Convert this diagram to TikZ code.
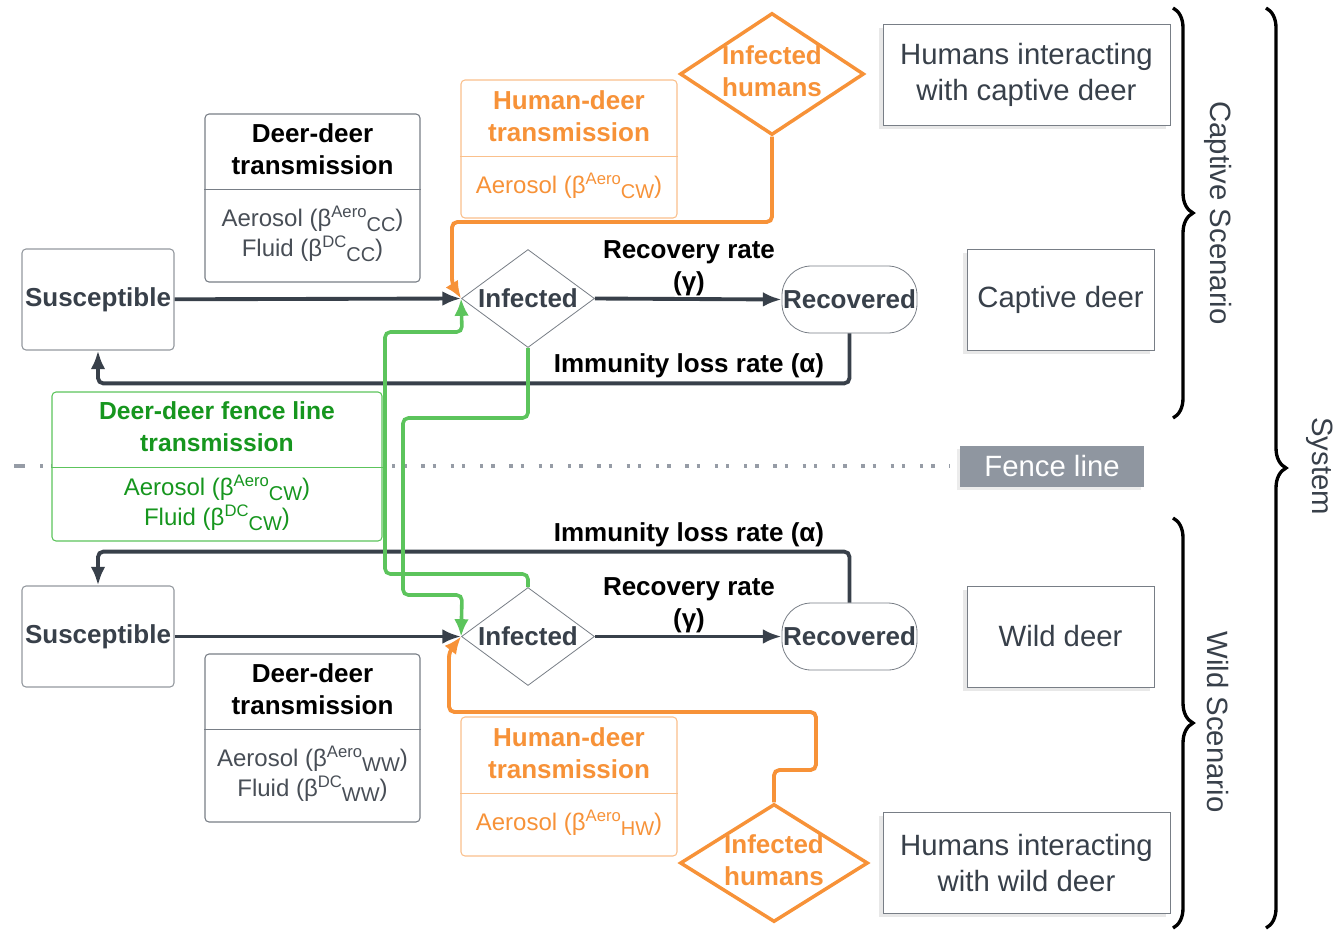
\documentclass[tikz,border=0pt]{standalone}
\usepackage{fontspec}
\setmainfont{Liberation Sans}
\usetikzlibrary{arrows.meta,positioning,shapes.geometric,decorations.pathreplacing,shadows}

\definecolor{inkdark}{RGB}{56,64,74}
\definecolor{boxgrey}{RGB}{120,126,134}
\definecolor{bodygrey}{RGB}{72,78,86}
\definecolor{humanorange}{RGB}{247,146,56}
\definecolor{humanlight}{RGB}{250,192,140}
\definecolor{fencegreen}{RGB}{22,150,30}
\definecolor{fenceline}{RGB}{92,196,92}
\definecolor{fencegrey}{RGB}{143,150,160}
\definecolor{dotgrey}{RGB}{150,156,166}

\newcommand{\brate}[2]{β\raisebox{0.36em}{\fontsize{12.5pt}{12.5pt}\selectfont #1}\raisebox{-0.2em}{\fontsize{15pt}{15pt}\selectfont #2}}

\begin{document}
\begin{tikzpicture}[x=0.75pt,y=-0.75pt,>=Latex,
bold text/.style={font=\fontsize{19.5pt}{24pt}\selectfont\bfseries,align=center,inner sep=0pt},
body text/.style={font=\fontsize{18pt}{22.5pt}\selectfont,align=center,inner sep=0pt,text=bodygrey},
big text/.style={font=\fontsize{22pt}{27pt}\selectfont,align=center,inner sep=0pt,text=inkdark},
state box/.style={draw=boxgrey!80,rounded corners=3pt,minimum width=114pt,minimum height=75.75pt,line width=0.8pt,text=inkdark},
infected/.style={diamond,draw=boxgrey,fill=white,minimum width=99.75pt,minimum height=73.5pt,inner sep=0pt,line width=0.6pt},
recovered/.style={draw=boxgrey,rounded corners=22pt,minimum width=101.25pt,minimum height=50.25pt,line width=0.6pt,text=inkdark},
rate box/.style={draw=boxgrey,fill=white,rounded corners=3pt,inner sep=0pt,line width=0.8pt},
human diamond/.style={diamond,draw=humanorange,fill=white,line width=2.6pt,minimum width=138pt,minimum height=91.5pt,inner sep=0pt},
scene box/.style={big text,draw=boxgrey,fill=white,minimum height=75.75pt,line width=0.6pt,
  drop shadow={shadow xshift=-3pt,shadow yshift=-3pt,opacity=.18}},
flow/.style={-{Latex[length=14pt,width=11pt]},draw=inkdark,line width=2.9pt,rounded corners=4pt},
human flow/.style={-{Latex[length=13pt,width=11pt]},draw=humanorange,line width=2.9pt,rounded corners=4pt},
fence flow/.style={-{Latex[length=13pt,width=11pt]},draw=fenceline,line width=2.7pt,rounded corners=4pt},
scenario brace/.style={decorate,decoration={brace,amplitude=15pt},line width=2.5pt,draw=black}]
\useasboundingbox (0,0) rectangle (1337,932);

% fence line
\draw[dotgrey,line width=3pt] (14,466) -- (25,466);
\draw[dotgrey,line width=3pt,dash pattern=on 2.5pt off 6pt on 2.5pt off 11pt] (40,466) -- (950,466);

% captive deer
\node[state box,bold text] (susC) at (98,299.5) {Susceptible};
\node[infected] (infC) at (528,298.5) {};
\node[bold text,text=inkdark] (infC-t) at (infC) {Infected};
\node[recovered,bold text] (recC) at (849.5,299.5) {Recovered};

\node[rate box,minimum width=161.25pt,minimum height=126pt] (ddC) at (312.5,198) {};
\draw[boxgrey,line width=0.8pt] ([yshift=-57pt]ddC.north west) -- ([yshift=-57pt]ddC.north east);
\node[bold text] (ddC-title) at (312.5,149) {Deer-deer\\transmission};
\node[body text] (ddC-body) at (312.5,234) {Aerosol (\brate{Aero}{CC})\\Fluid (\brate{DC}{CC})};

\node[rate box,draw=humanlight,minimum width=162pt,minimum height=103.5pt] (hdC) at (569,149) {};
\draw[humanlight,line width=0.8pt] ([yshift=-57.75pt]hdC.north west) -- ([yshift=-57.75pt]hdC.north east);
\node[bold text,text=humanorange] (hdC-title) at (569,116) {Human-deer\\transmission};
\node[body text,text=humanorange] (hdC-body) at (569,186) {Aerosol (\brate{Aero}{CW})};

\node[human diamond] (ihC) at (772,74) {};
\node[bold text,text=humanorange] (ihC-t) at (772,71) {Infected\\humans};

% fence line transmission
\node[rate box,draw=fenceline,minimum width=247.5pt,minimum height=111.75pt] (ddF) at (217,466.5) {};
\draw[fenceline,line width=0.8pt] ([yshift=-57pt]ddF.north west) -- ([yshift=-57pt]ddF.north east);
\node[bold text,text=fencegreen,font=\fontsize{18.5pt}{24pt}\selectfont\bfseries] (ddF-title) at (217,427) {Deer-deer fence line\\transmission};
\node[body text,text=fencegreen] (ddF-body) at (217,503) {Aerosol (\brate{Aero}{CW})\\Fluid (\brate{DC}{CW})};

% wild deer
\node[state box,bold text] (susW) at (98,636.5) {Susceptible};
\node[infected] (infW) at (528,636.5) {};
\node[bold text,text=inkdark] (infW-t) at (infW) {Infected};
\node[recovered,bold text] (recW) at (849.5,636.5) {Recovered};

\node[rate box,minimum width=161.25pt,minimum height=126pt] (ddW) at (312.5,738) {};
\draw[boxgrey,line width=0.8pt] ([yshift=-57pt]ddW.north west) -- ([yshift=-57pt]ddW.north east);
\node[bold text] (ddW-title) at (312.5,689) {Deer-deer\\transmission};
\node[body text] (ddW-body) at (312.5,774) {Aerosol (\brate{Aero}{WW})\\Fluid (\brate{DC}{WW})};

\node[rate box,draw=humanlight,minimum width=162pt,minimum height=104.25pt] (hdW) at (569,786.5) {};
\draw[humanlight,line width=0.8pt] ([yshift=-57.75pt]hdW.north west) -- ([yshift=-57.75pt]hdW.north east);
\node[bold text,text=humanorange] (hdW-title) at (569,753) {Human-deer\\transmission};
\node[body text,text=humanorange] (hdW-body) at (569,823) {Aerosol (\brate{Aero}{HW})};

\node[human diamond,minimum width=141pt,minimum height=88.5pt] (ihW) at (774,863) {};
\node[bold text,text=humanorange] (ihW-t) at (774,860) {Infected\\humans};

% rates
\node[bold text] (gamC) at (689,268) {Recovery rate\\(γ)};
\node[bold text] (alpC) at (689,366) {Immunity loss rate (α)};
\node[bold text] (alpW) at (689,535) {Immunity loss rate (α)};
\node[bold text] (gamW) at (689,605) {Recovery rate\\(γ)};

% transitions
\draw[flow] (susC) -- (infC.west);
\draw[flow] (infC.east) -- (recC.west);
\draw[flow] (recC.south) -- ++(0,50) -| (susC.south);
\draw[flow] (susW) -- (infW.west);
\draw[flow] (infW.east) -- (recW.west);
\draw[flow] (recW.north) -- ++(0,-51) -| (susW.north);

\draw[human flow] (ihC.south) |- (452,222) -- (452,284) -- (infC.west);
\draw[human flow] (ihW.north) -- (774,770) -- (816,770) -- (816,712) -- (449,712) -- (449,652) -- (infW.west);

\draw[fence flow] (infC.south) -- (528,418) -- (403,418) -- (403,595) -- (462,595) -- (infW.west);
\draw[fence flow] (infW.north) -- (528,574) -- (385,574) -- (385,332) -- (462,332) -- (infC.west);

% settings
\node[scene box,minimum width=215.25pt] (humC) at (1026.5,74.5) {Humans interacting\\with captive deer};
\node[scene box,minimum width=140.25pt] (capD) at (1060.5,299.5) {Captive deer};
\node[scene box,minimum width=140.25pt] (wildD) at (1060.5,636.5) {Wild deer};
\node[scene box,minimum width=215.25pt] (humW) at (1026.5,862.5) {Humans interacting\\with wild deer};
\node[big text,fill=fencegrey,text=white,minimum width=138pt,minimum height=30.75pt,
  drop shadow={shadow xshift=-2pt,shadow yshift=-2pt,opacity=.15}] (fence) at (1052,466.5) {Fence line};

\draw[scenario brace] (1173,8) -- (1173,418);
\node[big text,rotate=-90] (capS) at (1218,213) {Captive Scenario};
\draw[scenario brace] (1173,518) -- (1173,928);
\node[big text,rotate=-90] (wildS) at (1218,722) {Wild Scenario};
\draw[scenario brace] (1266,8) -- (1266,928);
\node[big text,rotate=-90] (sysS) at (1320,466) {System};
\end{tikzpicture}
\end{document}
